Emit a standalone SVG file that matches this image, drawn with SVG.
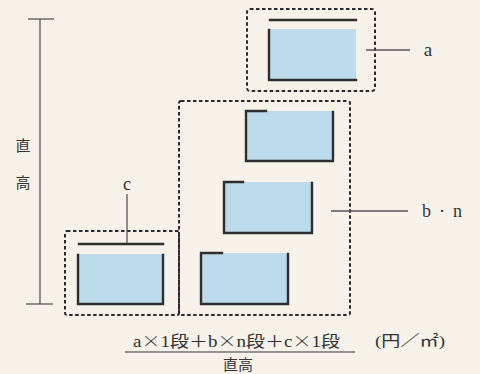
<svg xmlns="http://www.w3.org/2000/svg" width="480" height="374" viewBox="0 0 480 374">
<style>
.bg{fill:#f6f2ea}
.frame{fill:none;stroke:#2b2b2b;stroke-width:2;stroke-dasharray:3.5 2.5}
.fill{fill:#bcdbed}
.edge{fill:none;stroke:#2e2e2e;stroke-width:2.4;stroke-linecap:square}
.thin{fill:none;stroke:#555;stroke-width:1.3}
.t{font-family:"Liberation Serif","Noto Sans CJK JP",serif;fill:#333}
.j{font-family:"Noto Sans CJK JP",sans-serif;font-weight:300}
</style>
<rect class="bg" x="0" y="0" width="480" height="374"/>
<g id="dimension">
<line class="thin" x1="28" y1="19" x2="54" y2="19"/>
<line class="thin" x1="40" y1="19" x2="40" y2="304"/>
<line class="thin" x1="26" y1="304" x2="53" y2="304"/>
<text class="t" x="23" y="151" font-size="15" text-anchor="middle">直</text>
<text class="t" x="23" y="188" font-size="15" text-anchor="middle">高</text>
</g>
<g id="group-a">
<rect class="frame" x="247" y="9" width="128" height="82" rx="3"/>
<line class="edge" x1="270" y1="20" x2="356" y2="20"/>
<rect class="fill" x="269" y="29" width="87" height="51"/>
<polyline class="edge" points="269,30 269,80 356,80"/>
</g>
<g id="group-b">
<rect class="frame" x="179" y="101" width="171" height="214" rx="2"/>
<rect class="fill" x="246" y="111" width="87" height="50"/>
<polyline class="edge" points="266,111 246,111 246,161 333,161 333,112"/>
<rect class="fill" x="224" y="182" width="88" height="51"/>
<polyline class="edge" points="243,182 224,182 224,233 312,233 312,183"/>
<rect class="fill" x="201" y="253" width="87" height="51"/>
<polyline class="edge" points="222,253 201,253 201,304 288,304 288,254"/>
</g>
<g id="group-c">
<rect class="frame" x="65" y="231" width="114" height="84" rx="2"/>
<line class="edge" x1="79" y1="244" x2="163" y2="244"/>
<rect class="fill" x="78" y="254" width="85" height="50"/>
<polyline class="edge" points="78,255 78,304 163,304 163,255"/>
</g>
<g id="connectors">
<line class="thin" x1="366" y1="50" x2="410" y2="50"/>
<line class="thin" x1="331" y1="211" x2="408" y2="211"/>
<line class="thin" x1="127" y1="194" x2="127" y2="243"/>
</g>
<g id="labels">
<text class="t" x="428" y="56" font-size="19" text-anchor="middle">a</text>
<text class="t" x="422" y="217" font-size="18" textLength="40" lengthAdjust="spacing">b · n</text>
<text class="t" x="127" y="190" font-size="18" text-anchor="middle">c</text>
</g>
<g id="formula">
<text class="t" x="133" y="347" font-size="16" textLength="207" lengthAdjust="spacingAndGlyphs">a<tspan class="j">×</tspan>1段＋b<tspan class="j">×</tspan>n段＋c<tspan class="j">×</tspan>1段</text>
<line x1="125" y1="352" x2="355" y2="352" stroke="#333" stroke-width="1.2"/>
<text class="t" x="238" y="370" font-size="15" text-anchor="middle">直高</text>
<text class="t" x="375" y="346" font-size="15" textLength="70" lengthAdjust="spacingAndGlyphs">(円／㎡)</text>
</g>
</svg>
